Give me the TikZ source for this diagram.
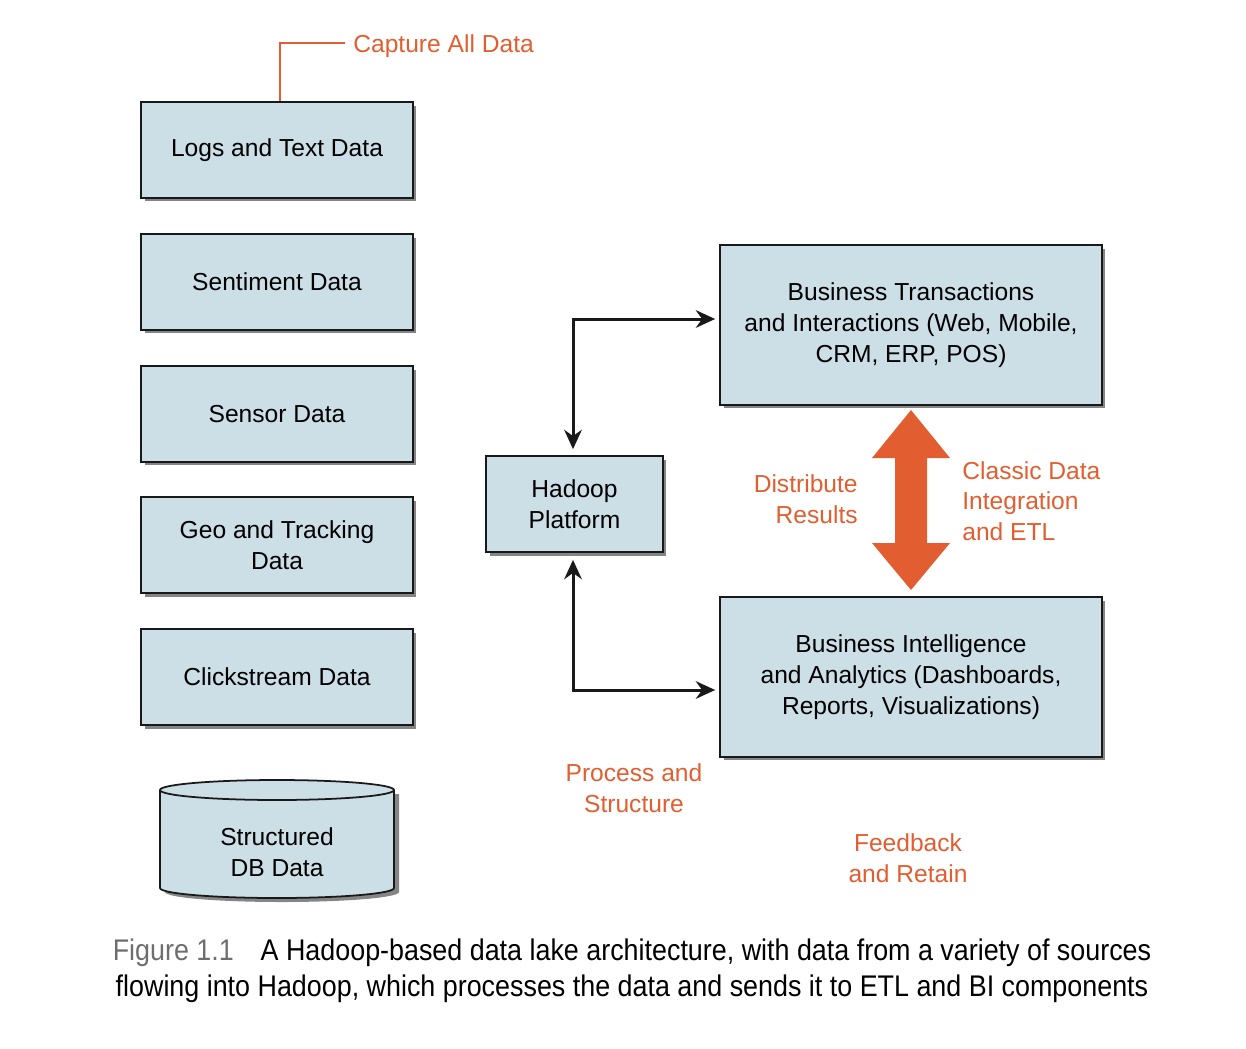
\documentclass[tikz,border=0pt]{standalone}
\usepackage{fontspec}
\setmainfont{Liberation Sans}
\newfontfamily\capfont[FakeStretch=0.9]{Liberation Sans}
\usetikzlibrary{arrows.meta,shadows}
\definecolor{boxfill}{RGB}{204,222,230}
\definecolor{orng}{RGB}{226,94,48}
\definecolor{capgray}{RGB}{110,110,110}
\tikzset{
  box/.style={draw=black!90, line width=1pt, fill=boxfill, align=center,
    font=\fontsize{14}{17.5}\selectfont, inner sep=0pt,
    drop shadow={shadow xshift=0.07cm, shadow yshift=-0.07cm, opacity=0.6, fill=black!80}},
  small/.style={box, minimum width=5.44cm, minimum height=1.92cm},
  conn/.style={draw=black!90, line width=1.7pt, {Stealth[length=11pt,width=10pt]}-{Stealth[length=11pt,width=10pt]}},
  olabel/.style={text=orng, font=\fontsize{14}{17.5}\selectfont, inner sep=0pt},
}
\begin{document}
\begin{tikzpicture}[x=0.02cm, y=-0.02cm]
\useasboundingbox (0,0) rectangle (1246,1048);

% left column
\node[small] (logs) at (277,150) {Logs and Text Data};
\node[small] (sent) at (277,282) {Sentiment Data};
\node[small] (sens) at (277,414) {Sensor Data};
\node[small] (geo) at (277,545) {Geo and Tracking\\Data};
\node[small] (click) at (277,677) {Clickstream Data};

% cylinder
\fill[black!80, opacity=0.6] (165,794) -- (165,892) arc[start angle=180, end angle=360, x radius=117, y radius=-10] -- (399,794) -- cycle;
\draw[black!90, line width=1pt, fill=boxfill] (160,790) -- (160,888) arc[start angle=180, end angle=360, x radius=117, y radius=-10] -- (394,790) arc[start angle=0, end angle=180, x radius=117, y radius=-10] -- cycle;
\draw[black!90, line width=1pt] (160,790) arc[start angle=180, end angle=360, x radius=117, y radius=-10];
\node[align=center, font=\fontsize{14}{17.5}\selectfont, inner sep=0pt] (db) at (277,852) {Structured\\DB Data};

% hadoop and right boxes
\node[box, minimum width=3.54cm, minimum height=1.92cm] (hadoop) at (574.5,504) {Hadoop\\Platform};
\node[box, minimum width=7.64cm, minimum height=3.2cm] (bt) at (911,325) {Business Transactions\\and Interactions (Web, Mobile,\\CRM, ERP, POS)};
\node[box, minimum width=7.64cm, minimum height=3.2cm] (bi) at (911,677) {Business Intelligence\\and Analytics (Dashboards,\\Reports, Visualizations)};

% connectors
\draw[conn, shorten <=0.12cm, shorten >=0.08cm] ([xshift=-0.03cm]hadoop.north) |- ([yshift=0.12cm]bt.west);
\draw[conn, shorten <=0.14cm, shorten >=0.08cm] ([xshift=-0.03cm]hadoop.south) |- ([yshift=-0.26cm]bi.west);

% capture all data
\node[olabel, anchor=west] (cap) at (353,46) {Capture All Data};
\draw[orng, line width=1.5pt] ([xshift=0.06cm]logs.north) |- ([xshift=-0.16cm, yshift=0.06cm]cap.west);

% orange double arrow
\fill[orng] (911,410) -- (950,458) -- (927,458) -- (927,543) -- (950,543) -- (911,590) -- (872,543) -- (895,543) -- (895,458) -- (872,458) -- cycle;

% orange labels
\node[olabel, align=right, anchor=east] (dist) at (858,499) {Distribute\\Results};
\node[olabel, align=left, anchor=west] (etl) at (962,501) {Classic Data\\Integration\\and ETL};
\node[olabel, align=center] (proc) at (634,788) {Process and\\Structure};
\node[olabel, align=center] (feed) at (908,858) {Feedback\\and Retain};

% caption
\node[align=center, font=\capfont\fontsize{17}{20.5}\selectfont, inner sep=0pt] (caption) at (632,971) {{\color{capgray}Figure 1.1}\hspace{0.9em}A Hadoop-based data lake architecture, with data from a variety of sources\\flowing into Hadoop, which processes the data and sends it to ETL and BI components};
\end{tikzpicture}
\end{document}
